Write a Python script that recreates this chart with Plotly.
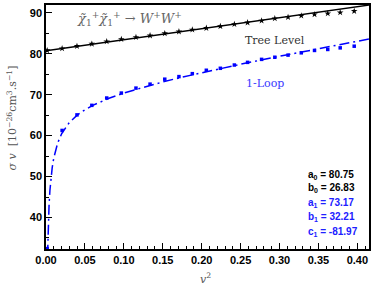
import plotly.graph_objects as go

# ---- data ----
v2_points = [0.0015, 0.0207, 0.0398, 0.0589, 0.078, 0.0968, 0.1156, 0.1337, 0.1526,
             0.1708, 0.188, 0.206, 0.224, 0.242, 0.259, 0.277, 0.294, 0.311, 0.328,
             0.345, 0.362, 0.378, 0.396]
tree_points = [80.8, 81.28, 81.84, 82.4, 82.98, 83.54, 84.02, 84.43, 84.95, 85.4,
               85.85, 86.27, 86.7, 87.2, 87.6, 88.06, 88.6, 88.93, 89.27, 89.59,
               89.83, 90.07, 90.39]
loop_points = [32.4, 61.26, 65.06, 67.39, 69.18, 70.39, 71.6, 72.57, 73.78, 74.41,
               75.13, 75.96, 76.44, 77.24, 77.89, 78.62, 79.14, 79.66, 80.22, 80.8,
               81.04, 81.43, 81.84]

tree_fit_x = [0.0, 0.415]
tree_fit_y = [80.75, 91.88]

loop_fit_x = [0.002, 0.003, 0.004, 0.005, 0.0065, 0.008, 0.010, 0.0125, 0.015, 0.02,
              0.025, 0.03, 0.04, 0.05, 0.06, 0.08, 0.10, 0.125, 0.15, 0.175, 0.20,
              0.25, 0.30, 0.35, 0.415]
loop_fit_y = [30.88, 38.69, 43.35, 46.54, 49.89, 52.25, 54.55, 56.63, 58.19, 60.42,
              61.99, 63.21, 64.99, 66.31, 67.37, 69.05, 70.40, 71.84, 73.11, 74.28,
              75.37, 77.43, 79.37, 81.24, 83.60]

param_labels = ["a<sub>0</sub> = 80.75", "b<sub>0</sub> = 26.83",
                "a<sub>1</sub> = 73.17", "b<sub>1</sub> = 32.21", "c<sub>1</sub> = -81.97"]
param_colors = ["black", "black", "#2020ff", "#2020ff", "#2020ff"]

BLUE = "#0000ff"

fig = go.Figure()
fig.add_trace(go.Scatter(x=tree_fit_x, y=tree_fit_y, mode="lines",
                         line=dict(color="black", width=1.5), showlegend=False))
fig.add_trace(go.Scatter(x=loop_fit_x, y=loop_fit_y, mode="lines",
                         line=dict(color=BLUE, width=1.5, dash="10px,4px,2px,4px"),
                         showlegend=False))
fig.add_trace(go.Scatter(x=v2_points, y=tree_points, mode="markers",
                         marker=dict(symbol="star", size=5, color="black"),
                         showlegend=False))
fig.add_trace(go.Scatter(x=v2_points, y=loop_points, mode="markers",
                         marker=dict(symbol="square", size=3.5, color=BLUE),
                         showlegend=False))

tickfont = dict(family="Liberation Sans, Arial, sans-serif", size=11, color="black",
                weight="bold")
fig.update_xaxes(range=[0, 0.415], dtick=0.05, tick0=0, tickformat=".2f",
                 ticks="inside", ticklen=6, tickwidth=1, tickcolor="black",
                 minor=dict(dtick=0.01, ticks="inside", ticklen=3, tickcolor="black"),
                 showline=True, linecolor="black", linewidth=1.5, mirror=True,
                 showgrid=False, zeroline=False, tickfont=tickfont)
fig.update_yaxes(range=[32.3, 91.9], dtick=10, tick0=0,
                 ticks="inside", ticklen=6, tickwidth=1, tickcolor="black",
                 minor=dict(dtick=5, ticks="inside", ticklen=3, tickcolor="black"),
                 showline=True, linecolor="black", linewidth=1.5, mirror=True,
                 showgrid=False, zeroline=False, tickfont=tickfont)

serif = "DejaVu Serif, serif"
ann = [
    dict(x=0.0891, y=0.943, xanchor="left", yanchor="middle",
         text="<i>χ̃</i><sub>1</sub><sup>+</sup><i>χ̃</i><sub>1</sub><sup>+</sup> → <i>W</i><sup>+</sup><i>W</i><sup>+</sup>",
         font=dict(family=serif, size=13, color="#666666")),
    dict(x=0.7097, y=0.854, xanchor="center", yanchor="middle", text="Tree Level",
         font=dict(family=serif, size=11, color="#333333")),
    dict(x=0.6774, y=0.6795, xanchor="center", yanchor="middle", text="1-Loop",
         font=dict(family=serif, size=11, color="#3a3aff")),
    dict(x=-0.105, y=0.535, xanchor="center", yanchor="middle", textangle=-90,
         text="<i>σ v</i>  [10<sup>−26</sup>cm<sup>3</sup>.s<sup>−1</sup>]",
         font=dict(family=serif, size=11, color="#555555")),
    dict(x=0.4946, y=-0.1197, xanchor="center", yanchor="middle",
         text="<i>v</i><sup>2</sup>",
         font=dict(family=serif, size=11, color="#555555")),
]
ys = [0.3034, 0.2483, 0.1874, 0.1306, 0.0710]
for lab, col, yy in zip(param_labels, param_colors, ys):
    ann.append(dict(x=0.804, y=yy, xanchor="left", yanchor="middle", text=lab,
                    font=dict(family="Liberation Sans, Arial, sans-serif", size=10,
                              color=col, weight="bold")))
for a in ann:
    a.update(xref="paper", yref="paper", showarrow=False)

fig.update_layout(width=374, height=288,
                  margin=dict(l=46, r=3, t=3, b=38.5),
                  paper_bgcolor="white", plot_bgcolor="white",
                  annotations=ann)

fig.write_html("out.html", config={"displayModeBar": False},
               post_script="document.body.style.margin='0';document.body.style.overflow='hidden';")
